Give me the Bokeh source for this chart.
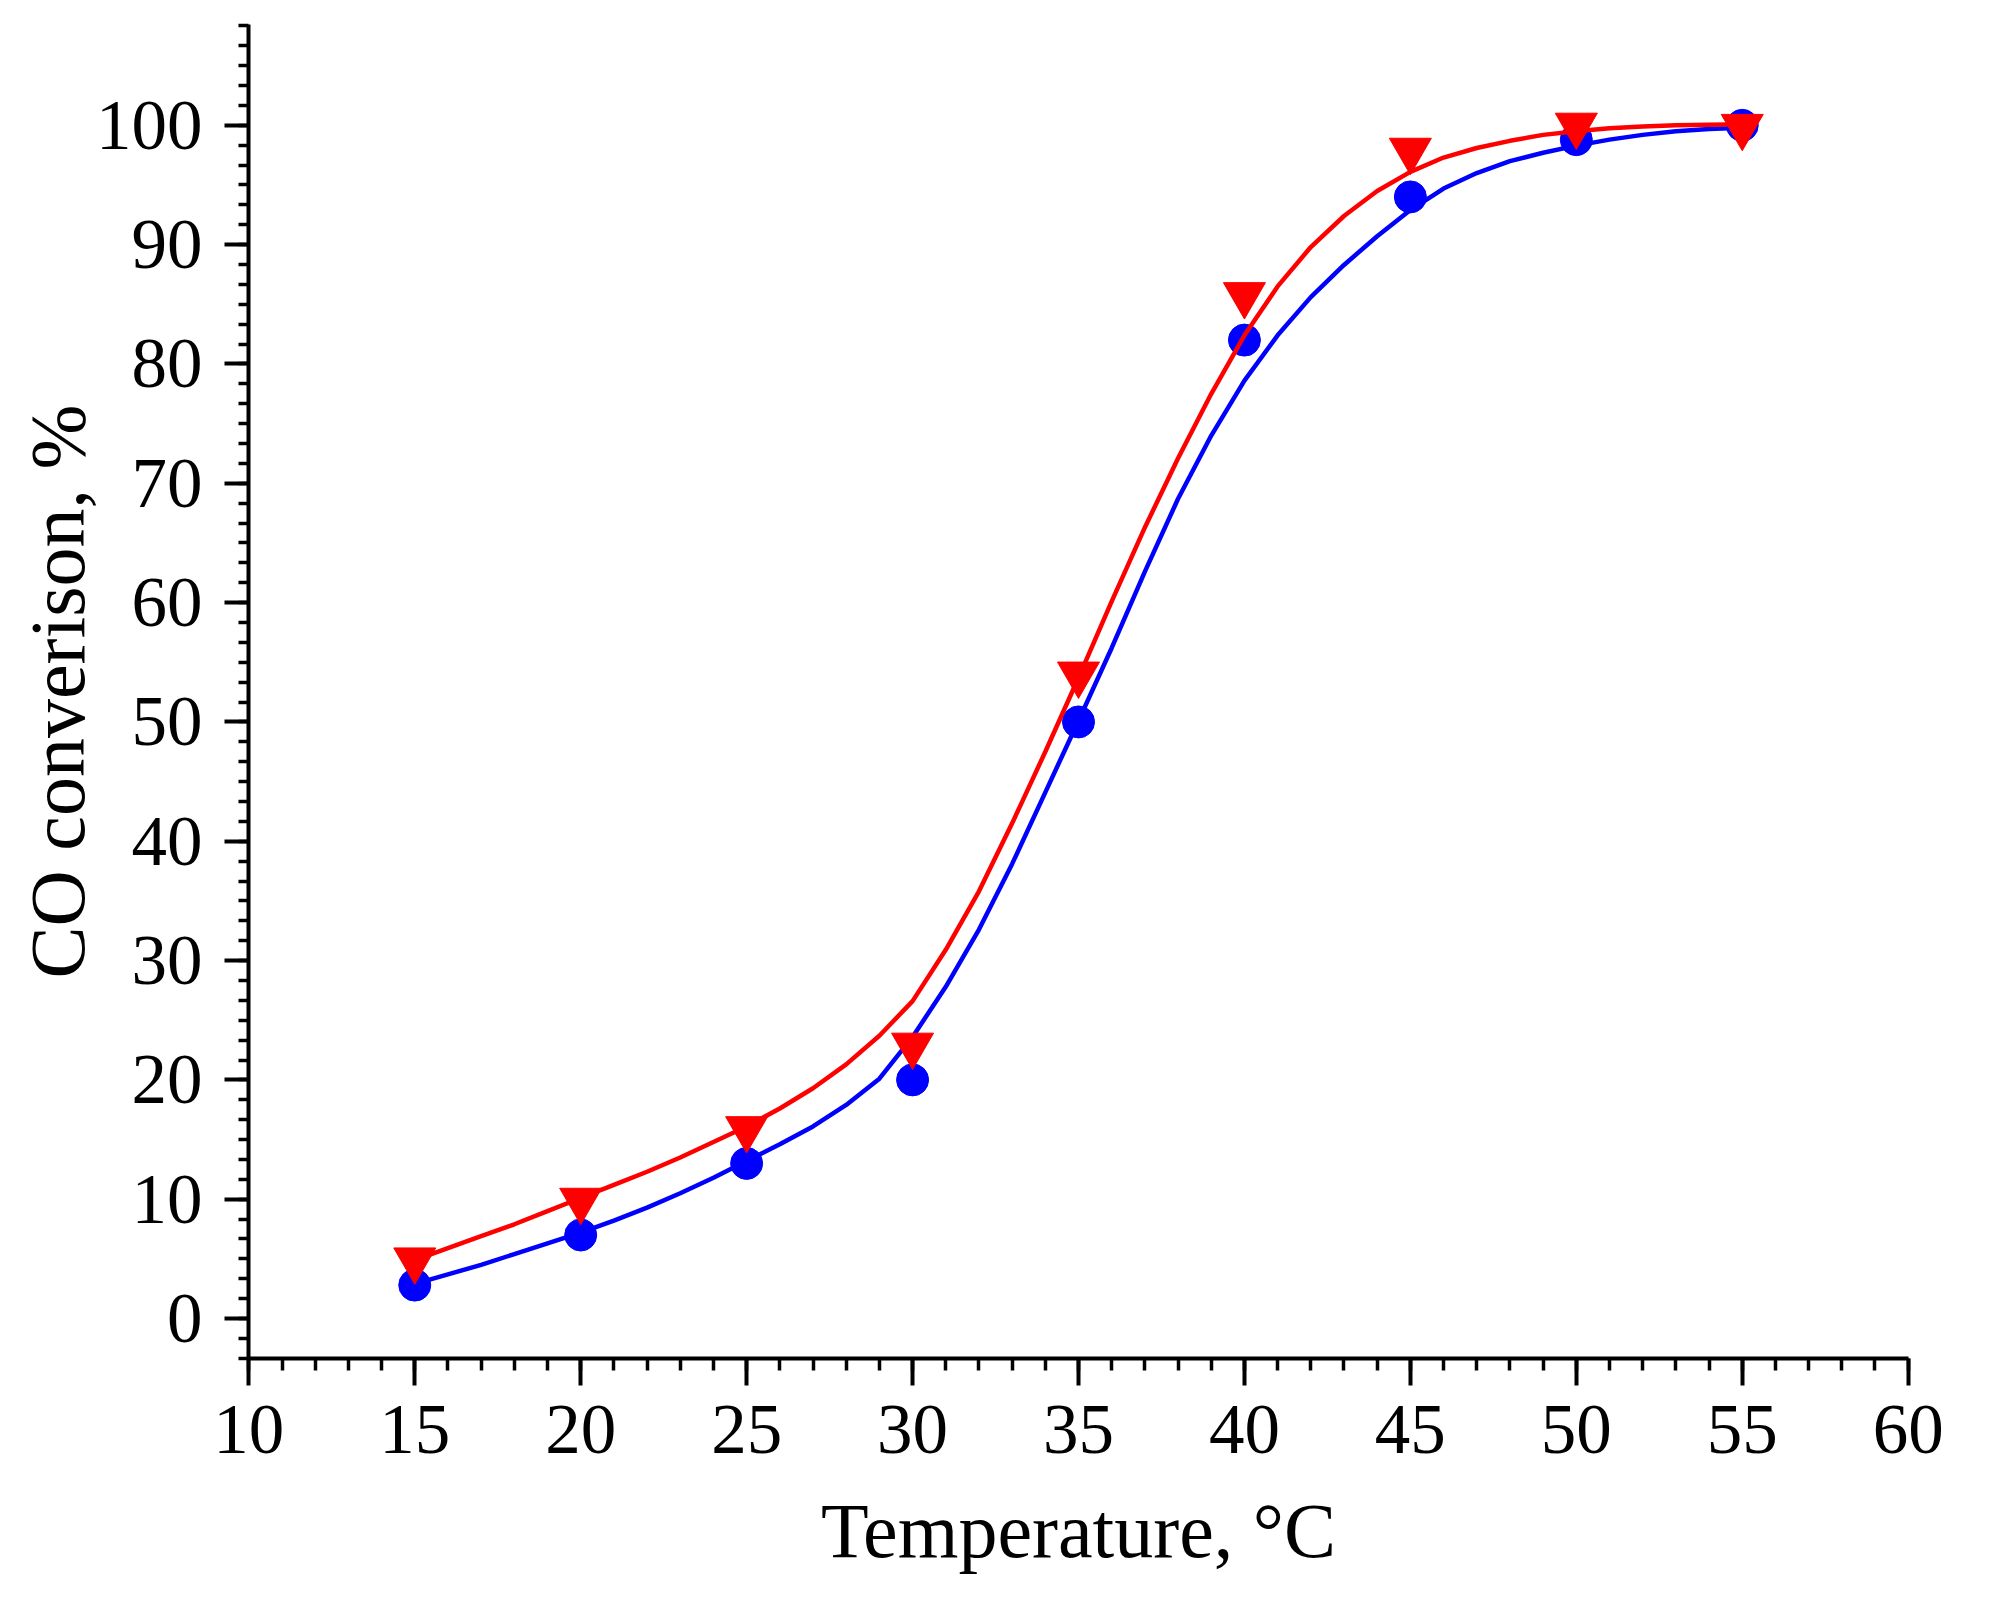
from bokeh.plotting import figure
from bokeh.models import Range1d, SingleIntervalTicker
from bokeh.embed import file_html
from bokeh.resources import INLINE

# measured points
temps = [15, 20, 25, 30, 35, 40, 45, 50, 55]
blue_conv = [2.8, 7.0, 13.0, 20.0, 50.0, 82.0, 94.0, 98.8, 100.0]
red_conv = [4.9, 9.9, 15.9, 22.9, 54.0, 85.8, 97.9, 100.0, 99.9]

# fitted curves
fit_t = [15, 16, 17, 18, 19, 20, 21, 22, 23, 24, 25, 26, 27, 28, 29, 30,
         31, 32, 33, 34, 35, 36, 37, 38, 39, 40, 41, 42, 43, 44, 45, 46,
         47, 48, 49, 50, 51, 52, 53, 54, 55]
blue_fit = [2.9, 3.7, 4.5, 5.4, 6.3, 7.2, 8.2, 9.3, 10.5, 11.8, 13.2, 14.6,
            16.1, 17.9, 20.1, 23.6, 27.8, 32.6, 38.1, 44.1, 50.1, 56.2, 62.6,
            68.7, 74.0, 78.6, 82.4, 85.6, 88.3, 90.7, 92.9, 94.7, 96.0, 97.0,
            97.7, 98.3, 98.8, 99.2, 99.5, 99.7, 99.8]
red_fit = [4.9, 5.9, 6.9, 7.9, 9.0, 10.1, 11.2, 12.3, 13.5, 14.8, 16.1, 17.6,
           19.3, 21.3, 23.7, 26.6, 30.9, 35.8, 41.5, 47.5, 53.7, 60.1, 66.3,
           72.1, 77.5, 82.4, 86.5, 89.8, 92.4, 94.5, 96.1, 97.3, 98.1, 98.7,
           99.2, 99.5, 99.75, 99.9, 100.0, 100.05, 100.1]

x_label = "Temperature, °C"
y_label = "CO converison, %"

FONT = "Liberation Serif"

p = figure(frame_width=1660, frame_height=1334,
           x_range=Range1d(9.99, 60.01), y_range=Range1d(-3.35, 108.45),
           output_backend="svg", toolbar_location=None,
           min_border_left=248, min_border_right=62,
           min_border_top=24, min_border_bottom=219)

p.background_fill_color = "white"
p.border_fill_color = "white"
p.outline_line_color = None
p.xgrid.visible = False
p.ygrid.visible = False

p.xaxis.ticker = SingleIntervalTicker(interval=5, num_minor_ticks=5)
p.yaxis.ticker = SingleIntervalTicker(interval=10, num_minor_ticks=6)

for ax in (p.xaxis[0], p.yaxis[0]):
    ax.axis_line_color = "black"
    ax.axis_line_width = 4
    ax.major_tick_line_color = "black"
    ax.major_tick_line_width = 4
    ax.minor_tick_line_color = "black"
    ax.minor_tick_line_width = 3.5
    ax.major_tick_in = 0
    ax.minor_tick_in = 0
    ax.major_label_text_font = FONT
    ax.major_label_text_font_size = "71px"
    ax.major_label_text_color = "black"
    ax.axis_label_text_font = FONT
    ax.axis_label_text_font_size = "78px"
    ax.axis_label_text_font_style = "normal"
    ax.axis_label_text_color = "black"

p.xaxis.major_tick_out = 27
p.xaxis.minor_tick_out = 12
p.xaxis.major_label_standoff = 20
p.xaxis.axis_label = x_label
p.xaxis.axis_label_standoff = 31

p.yaxis.major_tick_out = 24
p.yaxis.minor_tick_out = 10
p.yaxis.major_label_standoff = 22
p.yaxis.axis_label = y_label
p.yaxis.axis_label_standoff = -8

p.line(fit_t, blue_fit, line_color="#0000FF", line_width=4.5)
p.scatter(temps, blue_conv, marker="circle", size=32,
          fill_color="#0000FF", line_color="#0000FF")
p.line(fit_t, red_fit, line_color="#FF0000", line_width=4.5)
p.scatter(temps, red_conv, marker="inverted_triangle", size=42,
          fill_color="#FF0000", line_color="#FF0000")

open("out.html", "w").write(file_html(p, INLINE))
